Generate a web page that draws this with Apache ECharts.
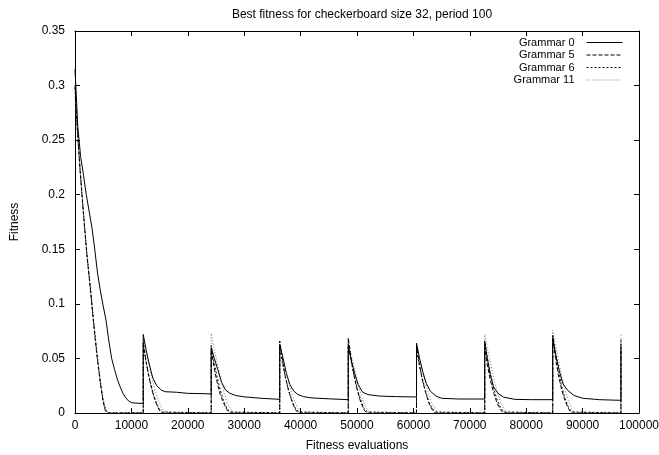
<!DOCTYPE html>
<html>
<head>
<meta charset="utf-8">
<script src="https://cdn.jsdelivr.net/npm/echarts@6/dist/echarts.min.js"></script>
<style>
    html, body { margin: 0; padding: 0; background: #fff; }
    #main { width: 659px; height: 455px; }
</style>
</head>
<body>
<div id="main"></div>
<script>
// names shown in the legend
var seriesNames = ['Grammar 0', 'Grammar 5', 'Grammar 6', 'Grammar 11'];

// [evaluations, best fitness]
var grammar0 = [
    [0, 0.315], [500, 0.262], [1000, 0.235], [1500, 0.218], [2000, 0.200], [2500, 0.185], [3000, 0.170],
    [3500, 0.150], [4000, 0.128], [4500, 0.112], [5000, 0.098], [5500, 0.085], [6000, 0.066], [6500, 0.050],
    [7000, 0.040], [7500, 0.031], [8000, 0.024], [8500, 0.018], [9000, 0.014], [9500, 0.011], [10000, 0.0095],
    [11000, 0.009], [12100, 0.0088],
    [12100, 0.072], [12600, 0.058], [13200, 0.044], [13800, 0.032], [14500, 0.025], [15300, 0.021], [16000, 0.0195],
    [18000, 0.019], [20000, 0.018], [22000, 0.0178], [24150, 0.0175],
    [24150, 0.060], [24700, 0.050], [25300, 0.040], [26000, 0.028], [26700, 0.021], [27500, 0.018], [28500, 0.016],
    [30000, 0.0148], [33000, 0.0135], [36300, 0.0125],
    [36300, 0.063], [36900, 0.050], [37500, 0.036], [38100, 0.026], [38800, 0.020], [39500, 0.017], [40500, 0.015],
    [42000, 0.0138], [45000, 0.013], [48450, 0.0122],
    [48450, 0.061], [49000, 0.048], [49600, 0.036], [50200, 0.026], [51000, 0.019], [52000, 0.0168], [54000, 0.0155],
    [57000, 0.015], [60550, 0.0147],
    [60550, 0.064], [61100, 0.050], [61700, 0.037], [62300, 0.027], [63000, 0.020], [64000, 0.0155], [65000, 0.0135],
    [68000, 0.0128], [72650, 0.0128],
    [72650, 0.065], [73100, 0.050], [73600, 0.036], [74200, 0.024], [75000, 0.018], [76000, 0.0145], [78000, 0.0125],
    [81000, 0.0122], [84700, 0.0122],
    [84700, 0.068], [85300, 0.052], [85900, 0.038], [86500, 0.027], [87300, 0.021], [88500, 0.016], [90000, 0.0135],
    [93000, 0.0122], [96800, 0.0116],
    [96800, 0.060]
];

var grammar5 = [
    [0, 0.300], [400, 0.262], [900, 0.222], [1500, 0.182], [2100, 0.145], [2700, 0.115], [3300, 0.082],
    [3900, 0.052], [4500, 0.027], [5000, 0.010], [5400, 0.002], [5700, 0], [12100, 0],
    [12100, 0.065], [12600, 0.047], [13100, 0.033], [13700, 0.020], [14300, 0.010], [14900, 0.003], [15400, 0], [24150, 0],
    [24150, 0.058], [24650, 0.042], [25150, 0.029], [25750, 0.017], [26350, 0.009], [26950, 0.003], [27450, 0], [36300, 0],
    [36300, 0.066], [36800, 0.048], [37300, 0.033], [37900, 0.020], [38500, 0.010], [39100, 0.003], [39600, 0], [48450, 0],
    [48450, 0.069], [48950, 0.050], [49450, 0.035], [50050, 0.021], [50650, 0.010], [51250, 0.003], [51750, 0], [60550, 0],
    [60550, 0.062], [61050, 0.045], [61550, 0.031], [62150, 0.019], [62750, 0.009], [63350, 0.003], [63850, 0], [72650, 0],
    [72650, 0.060], [73150, 0.043], [73650, 0.030], [74250, 0.018], [74850, 0.009], [75450, 0.003], [75950, 0], [84700, 0],
    [84700, 0.070], [85200, 0.050], [85700, 0.035], [86300, 0.021], [86900, 0.011], [87500, 0.004], [88000, 0], [96800, 0],
    [96800, 0.065]
];

var grammar6 = [
    [0, 0.298], [400, 0.262], [900, 0.224], [1500, 0.184], [2100, 0.147], [2700, 0.116], [3300, 0.084],
    [3900, 0.054], [4500, 0.028], [5000, 0.011], [5400, 0.003], [5800, 0], [12100, 0],
    [12100, 0.062], [12600, 0.047], [13100, 0.034], [13700, 0.021], [14300, 0.011], [14900, 0.004], [15500, 0.001], [15700, 0], [24150, 0],
    [24150, 0.062], [24650, 0.047], [25150, 0.034], [25750, 0.021], [26350, 0.011], [26950, 0.004], [27550, 0.001], [27750, 0], [36300, 0],
    [36300, 0.060], [36800, 0.045], [37300, 0.033], [37900, 0.020], [38500, 0.011], [39100, 0.004], [39700, 0.001], [39900, 0], [48450, 0],
    [48450, 0.064], [48950, 0.048], [49450, 0.035], [50050, 0.022], [50650, 0.012], [51250, 0.004], [51850, 0.001], [52050, 0], [60550, 0],
    [60550, 0.058], [61050, 0.044], [61550, 0.032], [62150, 0.020], [62750, 0.010], [63350, 0.004], [63950, 0.001], [64150, 0], [72650, 0],
    [72650, 0.066], [73150, 0.050], [73650, 0.036], [74250, 0.022], [74850, 0.012], [75450, 0.005], [76050, 0.001], [76250, 0], [84700, 0],
    [84700, 0.072], [85200, 0.054], [85700, 0.040], [86300, 0.024], [86900, 0.013], [87500, 0.005], [88100, 0.001], [88300, 0], [96800, 0],
    [96800, 0.068]
];

var grammar11 = [
    [0, 0.290], [400, 0.258], [900, 0.221], [1500, 0.182], [2100, 0.146], [2700, 0.115], [3300, 0.084],
    [3900, 0.055], [4500, 0.030], [5000, 0.013], [5500, 0.003], [5900, 0], [12100, 0],
    [12100, 0.068], [12600, 0.056], [13100, 0.044], [13700, 0.031], [14300, 0.019], [14900, 0.010], [15500, 0.003], [16100, 0], [24150, 0],
    [24150, 0.073], [24650, 0.060], [25150, 0.047], [25750, 0.033], [26350, 0.020], [26950, 0.010], [27550, 0.004], [28150, 0], [36300, 0],
    [36300, 0.062], [36800, 0.051], [37300, 0.040], [37900, 0.028], [38500, 0.017], [39100, 0.009], [39700, 0.003], [40300, 0], [48450, 0],
    [48450, 0.066], [48950, 0.054], [49450, 0.043], [50050, 0.030], [50650, 0.018], [51250, 0.009], [51850, 0.003], [52450, 0], [60550, 0],
    [60550, 0.060], [61050, 0.049], [61550, 0.039], [62150, 0.027], [62750, 0.017], [63350, 0.008], [63950, 0.003], [64550, 0], [72650, 0],
    [72650, 0.072], [73150, 0.059], [73650, 0.047], [74250, 0.032], [74850, 0.020], [75450, 0.010], [76050, 0.004], [76650, 0], [84700, 0],
    [84700, 0.076], [85200, 0.062], [85700, 0.049], [86300, 0.034], [86900, 0.021], [87500, 0.011], [88100, 0.004], [88700, 0], [96800, 0],
    [96800, 0.073]
];

var FONT = 'Liberation Sans, Arial, sans-serif';

function axisCommon(extra) {
    var ax = {
        axisLine: { show: true, onZero: false, lineStyle: { color: '#000', width: 1 } },
        axisTick: { show: true, inside: true, length: 5, lineStyle: { color: '#000', width: 1 } },
        splitLine: { show: false },
        axisLabel: { color: '#000', fontSize: 12, fontFamily: FONT }
    };
    for (var k in extra) ax[k] = extra[k];
    return ax;
}

function lineSeries(name, data, type, color, z) {
    return {
        name: name,
        type: 'line',
        data: data,
        symbol: 'none',
        showSymbol: false,
        z: z,
        lineStyle: { color: color, width: 1, type: type },
        itemStyle: { color: color }
    };
}

var chart = echarts.init(document.getElementById('main'));

var option = {
    animation: false,
    backgroundColor: '#fff',
    textStyle: { fontFamily: FONT },
    title: {
        text: 'Best fitness for checkerboard size 32, period 100',
        left: 357,
        textAlign: 'center',
        top: 4,
        textStyle: { fontSize: 12, fontWeight: 'normal', color: '#000', fontFamily: FONT }
    },
    legend: {
        data: seriesNames,
        orient: 'vertical',
        right: 36,
        top: 37,
        align: 'right',
        itemWidth: 36,
        itemHeight: 10,
        itemGap: 1.5,
        padding: 0,
        itemStyle: { opacity: 0 },
        lineStyle: { width: 1 },
        textStyle: { fontSize: 11, color: '#000', fontFamily: FONT, padding: [0, 7, 0, 0] }
    },
    grid: {
        left: 75,
        right: 20,
        top: 31,
        bottom: 42,
        containLabel: false,
        outerBoundsMode: 'none'
    },
    xAxis: [
        axisCommon({
            type: 'value',
            min: 0,
            max: 100000,
            interval: 10000,
            position: 'bottom',
            name: 'Fitness evaluations',
            nameLocation: 'middle',
            nameGap: 27,
            nameTextStyle: { color: '#000', fontSize: 12, fontFamily: FONT }
        }),
        axisCommon({
            type: 'value',
            min: 0,
            max: 100000,
            interval: 10000,
            position: 'top',
            axisLabel: { show: false }
        })
    ],
    yAxis: [
        axisCommon({
            type: 'value',
            min: 0,
            max: 0.35,
            interval: 0.05,
            position: 'left',
            name: 'Fitness',
            nameLocation: 'middle',
            nameRotate: 90,
            nameGap: 54,
            nameTextStyle: { color: '#000', fontSize: 12, fontFamily: FONT }
        }),
        axisCommon({
            type: 'value',
            min: 0,
            max: 0.35,
            interval: 0.05,
            position: 'right',
            axisLabel: { show: false }
        })
    ],
    series: [
        lineSeries(seriesNames[0], grammar0, 'solid', '#000', 4),
        lineSeries(seriesNames[1], grammar5, [4, 2], '#000', 3),
        lineSeries(seriesNames[2], grammar6, [2, 2], '#000', 2),
        lineSeries(seriesNames[3], grammar11, [1, 2], '#777', 1)
    ]
};

option.yAxis[0].axisLabel.margin = 10;
option.xAxis[0].axisLabel.margin = 7;
option.xAxis[0].axisLabel.formatter = function (v) { return String(v); };

chart.setOption(option);
</script>
</body>
</html>
